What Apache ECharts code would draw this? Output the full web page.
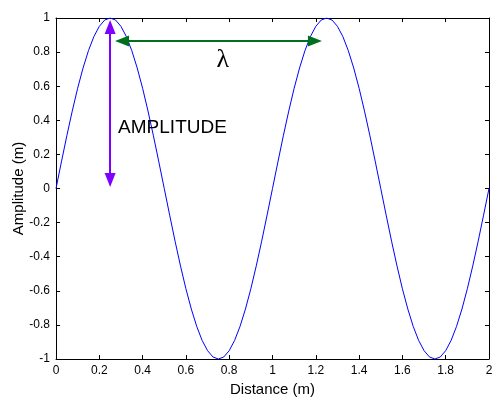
<!DOCTYPE html>
<html>
<head>
<meta charset="utf-8">
<script src="https://cdn.jsdelivr.net/npm/echarts@6/dist/echarts.min.js"></script>
<style>
html,body{margin:0;padding:0;background:#fff;}
#c{width:494px;height:399px;}
</style>
</head>
<body>
<div id="c"></div>
<script>
var distance = [0,0.025,0.05,0.075,0.1,0.125,0.15,0.175,0.2,0.225,0.25,0.275,0.3,0.325,0.35,0.375,0.4,0.425,0.45,0.475,
0.5,0.525,0.55,0.575,0.6,0.625,0.65,0.675,0.7,0.725,0.75,0.775,0.8,0.825,0.85,0.875,0.9,0.925,0.95,0.975,
1,1.025,1.05,1.075,1.1,1.125,1.15,1.175,1.2,1.225,1.25,1.275,1.3,1.325,1.35,1.375,1.4,1.425,1.45,1.475,
1.5,1.525,1.55,1.575,1.6,1.625,1.65,1.675,1.7,1.725,1.75,1.775,1.8,1.825,1.85,1.875,1.9,1.925,1.95,1.975,2];
var amplitude = [0,0.156,0.309,0.454,0.588,0.707,0.809,0.891,0.951,0.988,1,0.988,0.951,0.891,0.809,0.707,0.588,0.454,0.309,0.156,
0,-0.156,-0.309,-0.454,-0.588,-0.707,-0.809,-0.891,-0.951,-0.988,-1,-0.988,-0.951,-0.891,-0.809,-0.707,-0.588,-0.454,-0.309,-0.156,
0,0.156,0.309,0.454,0.588,0.707,0.809,0.891,0.951,0.988,1,0.988,0.951,0.891,0.809,0.707,0.588,0.454,0.309,0.156,
0,-0.156,-0.309,-0.454,-0.588,-0.707,-0.809,-0.891,-0.951,-0.988,-1,-0.988,-0.951,-0.891,-0.809,-0.707,-0.588,-0.454,-0.309,-0.156,0];
// arrow segments (positions of the arrowhead centres)
var ampArrow = [[0.25,0.05],[0.25,0.947]];
var waveArrow = [[0.305,0.865],[1.196,0.865]];
var annotations = [{text:'λ', x:0.77, y:0.75},{text:'AMPLITUDE', x:0.538, y:0.355}];

var series = [];
var pts = distance.map(function(d,i){return [d, amplitude[i]];});
series.push({type:'line', data:pts, showSymbol:false, symbol:'none', animation:false,
  lineStyle:{color:'#0000ff', width:1}, z:2});
function arrow(seg, color){
  return {type:'line', data:[], animation:false, silent:true, z:3,
    markLine:{silent:true, animation:false, symbol:['triangle','triangle'], symbolSize:[11,14],
      label:{show:false}, lineStyle:{color:color, width:2, type:'solid'},
      data:[[{coord:seg[0]},{coord:seg[1]}]]}};
}
series.push(arrow(ampArrow,'#8000ff'));
series.push(arrow(waveArrow,'#007020'));
function textMark(a, family, size){
  return {type:'scatter', symbolSize:0, animation:false, silent:true,
    itemStyle:{opacity:1}, data:[[a.x, a.y]],
    label:{show:true, position:'inside', formatter:a.text, color:'#000', opacity:1,
      fontFamily:family, fontSize:size}};
}
series.push(textMark(annotations[0], 'Liberation Serif', 26));
series.push(textMark(annotations[1], 'Liberation Sans', 19));

var axLine = {show:true, onZero:false, lineStyle:{color:'#000', width:1}};
var axTick = {show:true, inside:true, length:4, lineStyle:{color:'#000'}};
var lbl = {color:'#000', fontFamily:'Liberation Sans', fontSize:12};
var nameStyle = {color:'#000', fontFamily:'Liberation Sans', fontSize:15};
var chart = echarts.init(document.getElementById('c'), null, {renderer:'canvas'});
chart.setOption({
  animation:false,
  backgroundColor:'#fff',
  grid:{left:56, top:18, right:5, bottom:40, containLabel:false, outerBoundsMode:'none'},
  xAxis:[
    {type:'value', min:0, max:2, interval:0.2, position:'bottom',
     axisLine:axLine, axisTick:axTick, splitLine:{show:false},
     axisLabel:Object.assign({margin:6, hideOverlap:false}, lbl),
     name:'Distance (m)', nameLocation:'middle', nameGap:23, nameMoveOverlap:false,
     nameTextStyle:nameStyle},
    {type:'value', min:0, max:2, interval:0.2, position:'top',
     axisLine:axLine, axisTick:axTick, splitLine:{show:false}, axisLabel:{show:false}}
  ],
  yAxis:[
    {type:'value', min:-1, max:1, interval:0.2, position:'left',
     axisLine:axLine, axisTick:axTick, splitLine:{show:false},
     axisLabel:Object.assign({margin:6}, lbl),
     name:'Amplitude (m)', nameLocation:'middle', nameGap:30, nameMoveOverlap:false,
     nameTextStyle:nameStyle},
    {type:'value', min:-1, max:1, interval:0.2, position:'right',
     axisLine:axLine, axisTick:axTick, splitLine:{show:false}, axisLabel:{show:false}}
  ],
  series:series
});
</script>
</body>
</html>
